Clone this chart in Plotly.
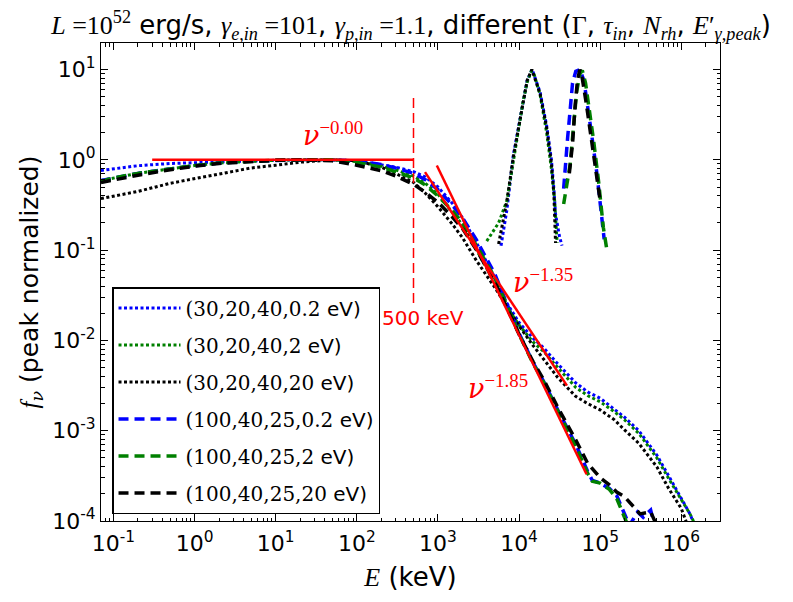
import plotly.graph_objects as go

# ---------------- data ----------------
# continuum, (Gamma, tau_in, N_rh, E'_peak) = (30,20,40,*)
E_dot = [0.07, 0.1, 0.2, 0.5, 1, 2, 5, 10, 20, 50, 100, 200, 300, 500, 700, 1000, 1500, 2000, 3000, 5000,
         7000, 1e4, 1.5e4, 2e4, 3e4, 5e4, 7e4, 1e5, 1.5e5, 2e5, 3e5, 5e5, 7e5, 1e6]
E_blue_dot = E_dot + [1.3e6, 1.45e6]
f_blue_dot = [0.762, 0.794, 0.861, 0.912, 0.933, 0.955, 0.973, 0.989, 1.0, 1.0, 0.977, 0.891, 0.832, 0.741, 0.646,
              0.501, 0.331, 0.229, 0.120, 0.0501, 0.0263, 0.0158, 0.0105, 0.00832, 0.0055, 0.00339, 0.00269,
              0.00229, 0.00174, 0.00141, 0.001, 0.000537, 0.000316, 0.000182, 0.000117, 0.0000891]
E_green_dot = E_dot + [1.3e6, 1.5e6]
f_green_dot = [0.590, 0.631, 0.708, 0.794, 0.865, 0.923, 0.966, 0.989, 1.0, 1.0, 0.955, 0.851, 0.776, 0.661, 0.550,
               0.417, 0.263, 0.191, 0.100, 0.0437, 0.0240, 0.0148, 0.00955, 0.00759, 0.00501, 0.00302, 0.00245,
               0.00209, 0.00162, 0.00132, 0.000933, 0.000501, 0.000295, 0.00017, 0.000117, 0.0000891]
E_black_dot = E_dot + [1.2e6]
f_black_dot = [0.372, 0.398, 0.447, 0.550, 0.617, 0.700, 0.813, 0.871, 0.942, 1.0, 0.977, 0.832, 0.708, 0.562, 0.427,
               0.302, 0.195, 0.138, 0.0759, 0.0389, 0.0240, 0.0145, 0.00871, 0.00631, 0.00389, 0.0024, 0.0020,
               0.0017, 0.00132, 0.00102, 0.000724, 0.000398, 0.000229, 0.000138, 0.0000891]

# continuum, (100,40,25,*)
E_blue_dash = [0.07, 0.1, 0.2, 0.5, 1, 2, 5, 10, 20, 50, 100, 200, 300, 500, 700, 1000, 1500, 2000, 3000, 5000,
               7000, 1e4, 1.5e4, 2e4, 3e4, 5e4, 7e4, 8e4, 1e5, 1.3e5, 1.6e5, 2e5, 2.3e5, 2.9e5, 3.4e5, 4.2e5, 4.7e5]
f_blue_dash = [0.589, 0.631, 0.708, 0.794, 0.865, 0.923, 0.966, 0.989, 1.0, 1.0, 0.966, 0.891, 0.813, 0.708, 0.603,
               0.468, 0.316, 0.229, 0.129, 0.055, 0.0263, 0.0120, 0.00562, 0.00355, 0.0017, 0.000708, 0.000355,
               0.000282, 0.000263, 0.000229, 0.000191, 0.000117, 0.0000891, 0.000126, 0.00011, 0.000132, 0.0000891]
E_green_dash = [0.07, 0.1, 0.2, 0.5, 1, 2, 5, 10, 20, 50, 100, 200, 300, 500, 700, 1000, 1500, 2000, 3000, 5000,
                7000, 1e4, 1.5e4, 2e4, 3e4, 5e4, 7e4, 8e4, 1e5, 1.3e5, 1.6e5, 2e5, 2.2e5]
f_green_dash = [0.575, 0.631, 0.708, 0.794, 0.865, 0.923, 0.966, 0.989, 1.0, 1.0, 0.933, 0.832, 0.741, 0.631, 0.525,
                0.398, 0.275, 0.20, 0.112, 0.0501, 0.0251, 0.0117, 0.0055, 0.00347, 0.00166, 0.000676, 0.000339,
                0.000275, 0.000263, 0.000224, 0.000178, 0.000112, 0.0000891]
E_black_dash = [0.07, 0.1, 0.2, 0.5, 1, 2, 5, 10, 20, 50, 100, 200, 300, 500, 700, 1000, 1500, 2000, 3000, 5000,
                7000, 1e4, 1.5e4, 2e4, 3e4, 5e4, 7e4, 1e5, 1.3e5, 1.6e5, 2e5, 2.6e5, 3.1e5, 4.2e5, 5e5]
f_black_dash = [0.562, 0.603, 0.676, 0.776, 0.851, 0.912, 0.966, 0.989, 1.0, 0.977, 0.871, 0.759, 0.661, 0.537, 0.437,
                0.339, 0.234, 0.174, 0.100, 0.0447, 0.0234, 0.0117, 0.00575, 0.00372, 0.00182, 0.000794, 0.000437,
                0.000302, 0.000251, 0.000209, 0.000186, 0.000141, 0.00012, 0.000126, 0.0000891]

# seed photon peaks
E_pk_blue_dot = [6000, 7100, 8500, 10000, 11200, 12600, 14500, 15800, 18200, 21900, 25100, 26900, 28200, 31600, 33900]
f_pk_blue_dot = [0.112, 0.282, 1.12, 2.51, 4.57, 7.59, 10.0, 7.94, 5.62, 2.40, 1.0, 0.479, 0.251, 0.141, 0.112]
E_pk_green_dot = [4000, 5600, 7100, 8500, 10000, 11200, 12600, 14100, 15100, 18200, 21900, 25100, 27500, 28800, 29500]
f_pk_green_dot = [0.126, 0.20, 0.355, 1.0, 2.40, 4.37, 7.24, 9.55, 9.33, 5.25, 2.0, 0.794, 0.355, 0.158, 0.120]
E_pk_black_dot = [5600, 7100, 8500, 10000, 11200, 12600, 14400, 15800, 18200, 21900, 25100, 26900, 27500, 28200]
f_pk_black_dot = [0.117, 0.355, 1.07, 2.51, 4.57, 7.59, 10.0, 7.94, 5.37, 2.29, 0.912, 0.417, 0.20, 0.120]
E_pk_blue_dash = [35500, 37200, 39800, 42700, 45700, 50100, 56200, 63100, 70800, 79400, 91200, 104700, 112200]
f_pk_blue_dash = [0.479, 0.891, 1.78, 3.55, 7.08, 9.55, 10.0, 7.59, 3.80, 1.78, 0.708, 0.251, 0.132]
E_pk_green_dash = [35500, 38900, 42700, 46800, 51300, 56200, 60300, 66100, 72400, 83200, 95500, 109600, 120200, 125900]
f_pk_green_dash = [0.324, 0.562, 0.891, 2.24, 5.62, 8.91, 9.77, 7.08, 3.98, 1.62, 0.589, 0.178, 0.105, 0.105]
E_pk_black_dash = [41700, 45700, 49000, 52500, 56200, 60300, 67600, 79400, 91200, 100000]
f_pk_black_dash = [0.708, 1.51, 3.80, 7.59, 10.0, 7.94, 4.17, 1.585, 0.661, 0.355]

# reference power laws and marker
E_flat = [0.3, 500]
f_flat = [1.0, 1.0]
E_pl135 = [693, 39000]
f_pl135 = [0.73, 0.00316]
E_pl185 = [970, 68000]
f_pl185 = [0.865, 0.00033]
E_500 = [500, 500]
f_500 = [4.85, 0.0234]

labels = ["(30,20,40,0.2", "(30,20,40,2", "(30,20,40,20", "(100,40,25,0.2", "(100,40,25,2", "(100,40,25,20"]

# ---------------- figure ----------------
SERIF = "DejaVu Serif"
MATH = "Liberation Serif"
DOT = "3px,2.5px"
DASH = "10px,6px"
NU = f"<span style='font-family:{SERIF}'><i>ν</i></span>"

series = [
    (E_blue_dot, f_blue_dot, E_pk_blue_dot, f_pk_blue_dot, "#0000ff", DOT, 3),
    (E_green_dot, f_green_dot, E_pk_green_dot, f_pk_green_dot, "#008000", DOT, 3),
    (E_black_dot, f_black_dot, E_pk_black_dot, f_pk_black_dot, "#000000", DOT, 3),
    (E_blue_dash, f_blue_dash, E_pk_blue_dash, f_pk_blue_dash, "#0000ff", DASH, 3.5),
    (E_green_dash, f_green_dash, E_pk_green_dash, f_pk_green_dash, "#008000", DASH, 3.5),
    (E_black_dash, f_black_dash, E_pk_black_dash, f_pk_black_dash, "#000000", DASH, 3.5),
]

fig = go.Figure()
for i, (ex, fy, px, py, col, dash, w) in enumerate(series):
    name = f"<span style='font-family:{SERIF}'>{labels[i]}</span> eV)"
    fig.add_trace(go.Scatter(x=ex, y=fy, mode="lines", name=name, legendgroup=f"g{i}",
                             line=dict(color=col, dash=dash, width=w)))
    fig.add_trace(go.Scatter(x=px, y=py, mode="lines", showlegend=False, legendgroup=f"g{i}",
                             line=dict(color=col, dash=dash, width=w)))

red = "#ff0000"
for ex, fy in [(E_flat, f_flat), (E_pl135, f_pl135), (E_pl185, f_pl185)]:
    fig.add_trace(go.Scatter(x=ex, y=fy, mode="lines", showlegend=False,
                             line=dict(color=red, width=2.5)))
fig.add_trace(go.Scatter(x=E_500, y=f_500, mode="lines", showlegend=False,
                         line=dict(color=red, width=1.5, dash="10px,5px")))

# axis ticks
xt = [0.1, 1, 10, 100, 1000, 1e4, 1e5, 1e6]
xtt = ["10<sup>-1</sup>", "10<sup>0</sup>", "10<sup>1</sup>", "10<sup>2</sup>", "10<sup>3</sup>",
       "10<sup>4</sup>", "10<sup>5</sup>", "10<sup>6</sup>"]
yt = [1e-4, 1e-3, 1e-2, 0.1, 1, 10]
ytt = ["10<sup>-4</sup>", "10<sup>-3</sup>", "10<sup>-2</sup>", "10<sup>-1</sup>", "10<sup>0</sup>", "10<sup>1</sup>"]
minor_x = [k * 10.0 ** n for n in range(-2, 7) for k in range(2, 10)]
minor_y = [k * 10.0 ** n for n in range(-5, 2) for k in range(2, 10)]

axis_common = dict(type="log", ticks="inside", ticklen=7, tickwidth=1, tickcolor="black",
                   showline=True, linecolor="black", linewidth=1, mirror="allticks", automargin=False,
                   showgrid=False, zeroline=False, tickfont=dict(size=22, color="black"))

fig.update_xaxes(range=[-1.154, 6.478], tickmode="array", tickvals=xt, ticktext=xtt, ticklabelstandoff=3,
                 minor=dict(tickmode="array", tickvals=minor_x, ticks="inside", ticklen=3.5,
                            tickcolor="black", showgrid=False),
                 title=dict(text=f"<span style='font-family:{MATH}'><i>E</i></span> (keV)",
                            font=dict(size=26), standoff=12),
                 **axis_common)
fig.update_yaxes(range=[-4, 1.294], tickmode="array", tickvals=yt, ticktext=ytt,
                 minor=dict(tickmode="array", tickvals=minor_y, ticks="inside", ticklen=3.5,
                            tickcolor="black", showgrid=False),
                 title=dict(text=f"<span style='font-family:{MATH}'><i>f</i></span><sub>{NU}</sub> (peak normalized)",
                            font=dict(size=25), standoff=6),
                 **axis_common)

title = (f"<span style='font-family:{MATH}'><i>L</i> =10<sup>52</sup></span> erg/s, "
         f"<span style='font-family:{MATH}'><i>γ</i><sub><i>e,in</i></sub> =101</span>, "
         f"<span style='font-family:{MATH}'><i>γ</i><sub><i>p,in</i></sub> =1.1</span>, different ("
         f"<span style='font-family:{MATH}'>Γ</span>, "
         f"<span style='font-family:{MATH}'><i>τ</i><sub><i>in</i></sub></span>, "
         f"<span style='font-family:{MATH}'><i>N</i><sub><i>rh</i></sub></span>, "
         f"<span style='font-family:{MATH}'><i>E</i>′<sub><i>γ,peak</i></sub></span>)")

# the page body adds an 8px offset; the figure is sized so the plot area lands where the reference has it
W, H = 785, 594
ann_font = dict(family=MATH, size=27, color=red)
fig.update_layout(
    width=W, height=H,
    margin=dict(l=93, r=73, t=35, b=81),
    plot_bgcolor="white", paper_bgcolor="white",
    font=dict(family="DejaVu Sans", color="black"),
    title=dict(text=title, x=403 / W, xanchor="center", y=1 - 17 / H, yanchor="middle", yref="container",
               font=dict(size=26)),
    legend=dict(x=0.0178, y=0.4895, xanchor="left", yanchor="top", bordercolor="black", borderwidth=1.5,
                bgcolor="white", font=dict(size=20), traceorder="grouped", tracegroupgap=8, itemwidth=62),
    annotations=[
        dict(x=1.707, y=0.291, xref="x", yref="y", text=f"{NU}<sup>−0.00</sup>", showarrow=False, font=ann_font),
        dict(x=4.30, y=-1.34, xref="x", yref="y", text=f"{NU}<sup>−1.35</sup>", showarrow=False, font=ann_font),
        dict(x=3.745, y=-2.52, xref="x", yref="y", text=f"{NU}<sup>−1.85</sup>", showarrow=False, font=ann_font),
        dict(x=2.81, y=-1.75, xref="x", yref="y", text="500 keV", showarrow=False,
             font=dict(family="DejaVu Sans", size=20, color=red)),
    ],
)

fig.write_html("out.html")
